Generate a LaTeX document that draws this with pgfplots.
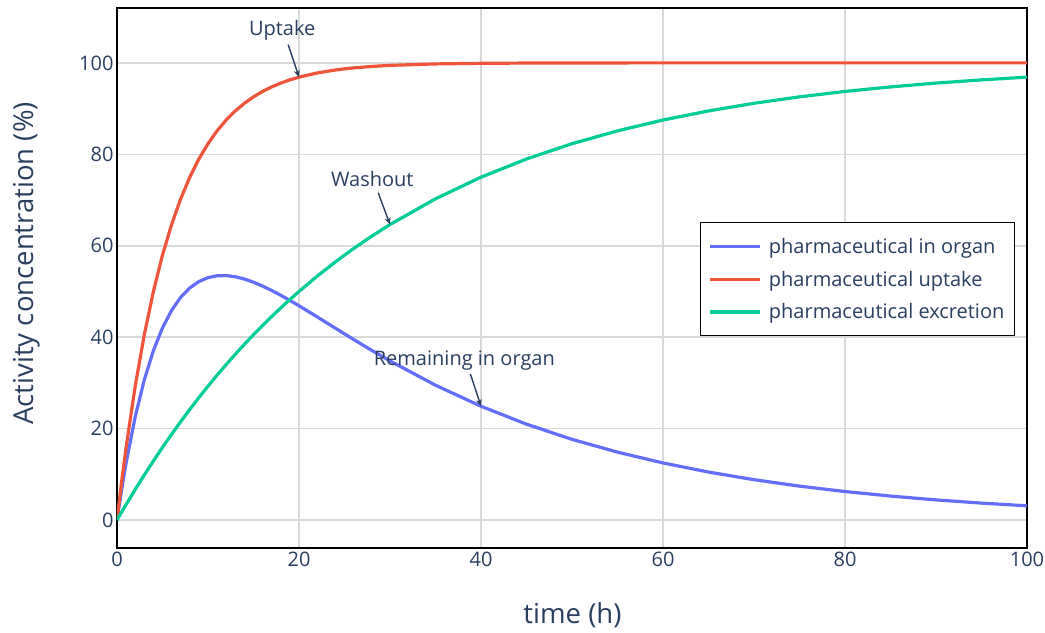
\documentclass[border=0pt]{standalone}
\usepackage{fontspec}
\setmainfont{Open Sans}
\usepackage{pgfplots}
\pgfplotsset{compat=1.18}
\usetikzlibrary{arrows.meta}

\definecolor{organ}{HTML}{636EFA}
\definecolor{uptake}{HTML}{EF553B}
\definecolor{excr}{HTML}{00CC96}
\definecolor{txt}{HTML}{2A3F5F}
\definecolor{gridc}{HTML}{D9D9D9}

\begin{document}
\begin{tikzpicture}[
  annot/.style={txt, line width=1.4pt, -{Stealth[length=7pt,width=6pt]}},
  annotxt/.style={txt, font=\fontsize{20}{24}\selectfont},
]
\begin{axis}[
    name=ax,
    scale only axis,
    width=910pt, height=540pt,
    xmin=0, xmax=100, ymin=-6.1, ymax=112,
    xtick={0,20,...,100}, ytick={0,20,...,100},
    grid=major,
    grid style={gridc, line width=1.6pt},
    axis line style={black, line width=1.6pt},
    major tick length=0pt,
    tick label style={font=\fontsize{20}{24}\selectfont, text=txt},
    /pgf/number format/assume math mode=true,
    xlabel={time (h)},
    ylabel={Activity concentration (\%)},
    label style={font=\fontsize{27.5}{32}\selectfont, text=txt},
    xlabel style={at={(axis description cs:0.5005,-0.124)}, anchor=center},
    ylabel style={at={(axis description cs:-0.099,0.527)}, anchor=center},
    legend style={at={(axis description cs:0.6407,0.6037)}, anchor=north west,
        draw=black, line width=1.4pt, fill=white,
        font=\fontsize{20}{24}\selectfont, text=txt,
        inner xsep=8pt, inner ysep=13.5pt, row sep=12pt,
        /tikz/every odd column/.append style={column sep=5pt}},
    legend image code/.code={\draw[#1] (0pt,0pt) -- (50pt,0pt);},
    legend cell align=left,
]

\addplot[organ, line width=3.2pt] coordinates {
    (0,0)(0.5,6.58)(1,12.50)(2,22.59)(3,30.67)(4,37.06)(5,42.05)(6,45.87)(7,48.73)
    (8,50.79)(9,52.18)(10,53.03)(11,53.43)(12,53.48)(13,53.22)(14,52.72)(15,52.03)
    (16,51.18)(17,50.22)(18,49.17)(19,48.04)(20,46.88)(22,44.44)(24,41.97)(25,40.73)
    (26,39.51)(28,37.11)(30,34.81)(35,29.50)(40,24.90)(45,20.98)(50,17.66)(55,14.87)
    (60,12.50)(65,10.51)(70,8.84)(75,7.43)(80,6.25)(85,5.26)(90,4.42)(95,3.72)(100,3.13)
};
\addlegendentry{pharmaceutical in organ}

\addplot[uptake, line width=3.2pt] coordinates {
    (0,0)(0.5,8.30)(1,15.91)(2,29.29)(3,40.54)(4,50.00)(5,57.96)(6,64.64)(7,70.27)
    (8,75.00)(9,78.98)(10,82.32)(11,85.13)(12,87.50)(13,89.49)(14,91.16)(15,92.57)
    (16,93.75)(17,94.74)(18,95.58)(19,96.28)(20,96.88)(22,97.79)(24,98.44)(25,98.69)
    (26,98.90)(28,99.22)(30,99.45)(35,99.77)(40,99.90)(45,99.96)(50,99.98)
    (60,100)(70,100)(80,100)(90,100)(100,100)
};
\addlegendentry{pharmaceutical uptake}

\addplot[excr, line width=3.2pt] coordinates {
    (0,0)(0.5,1.72)(1,3.41)(2,6.70)(3,9.87)(4,12.94)(5,15.91)(6,18.77)(7,21.54)
    (8,24.21)(9,26.80)(10,29.29)(11,31.70)(12,34.02)(13,36.27)(14,38.44)(15,40.54)
    (16,42.57)(17,44.52)(18,46.41)(19,48.24)(20,50.00)(22,53.35)(24,56.47)(25,57.96)
    (26,59.39)(28,62.11)(30,64.64)(35,70.27)(40,75.00)(45,78.98)(50,82.32)(55,85.13)
    (60,87.50)(65,89.49)(70,91.16)(75,92.57)(80,93.75)(85,94.74)(90,95.58)(95,96.28)(100,96.88)
};
\addlegendentry{pharmaceutical excretion}

\draw[annot] (axis cs:18.81,104.0) -- (axis cs:20,96.88);
\node[annotxt] at (axis cs:18.15,107.15) {Uptake};
\draw[annot] (axis cs:28.7,71.6) -- (axis cs:30,64.64);
\node[annotxt] at (axis cs:28.05,74.5) {Washout};
\draw[annot] (axis cs:38.83,31.97) -- (axis cs:40,24.9);
\node[annotxt] at (axis cs:38.17,34.9) {Remaining in organ};

\end{axis}
\pgfresetboundingbox
\path[use as bounding box] ([shift={(-117pt,-84pt)}]ax.south west) rectangle ([shift={(18pt,8pt)}]ax.north east);
\end{tikzpicture}
\end{document}
